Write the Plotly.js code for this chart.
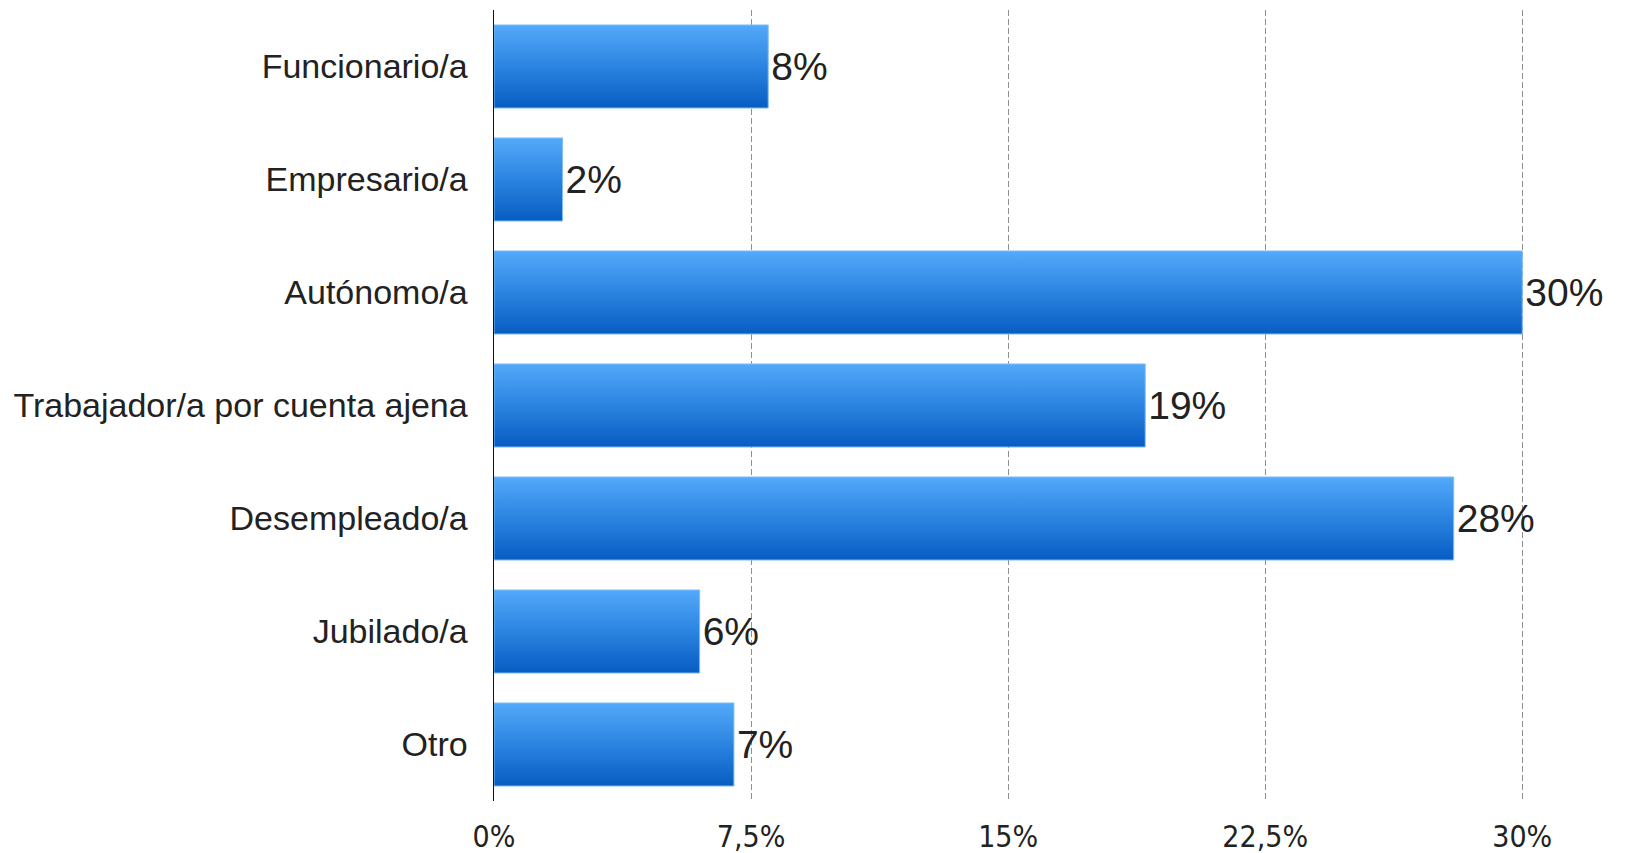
<!DOCTYPE html>
<html>
<head>
<meta charset="utf-8">
<script src="https://cdn.plot.ly/plotly-3.0.1.min.js"></script>
<style>
  html, body { margin: 0; padding: 0; background: #fff; }
  #chart { width: 1634px; height: 853px; }
</style>
</head>
<body>
<div id="chart"></div>
<script>
// Situación laboral (porcentaje)
const categories = [
    "Funcionario/a",
    "Empresario/a",
    "Autónomo/a",
    "Trabajador/a por cuenta ajena",
    "Desempleado/a",
    "Jubilado/a",
    "Otro"
];
const percentages = [8, 2, 30, 19, 28, 6, 7];
const tickValues = [0, 7.5, 15, 22.5, 30];
const tickLabels = ["0%", "7,5%", "15%", "22,5%", "30%"];

const trace = {
    type: "bar",
    orientation: "h",
    y: categories,
    x: percentages,
    marker: {
        color: "#2a82de",
        line: { color: "#7fbdf6", width: 1 }
    },
    text: percentages.map(v => v + "%"),
    textposition: "outside",
    constraintext: "none",
    cliponaxis: false,
    textfont: { family: "Liberation Sans, Arial, sans-serif", size: 39, color: "#222" },
    hoverinfo: "none"
};

const layout = {
    width: 1634,
    height: 853,
    margin: { t: 10, b: 52, l: 494, r: 109 },
    paper_bgcolor: "#fff",
    plot_bgcolor: "#fff",
    bargap: 0.265,
    showlegend: false,
    font: { family: "Liberation Sans, Arial, sans-serif", color: "#222" },
    xaxis: {
        range: [0, 30.08],
        tickmode: "array",
        tickvals: tickValues,
        ticktext: tickLabels,
        showgrid: true,
        gridcolor: "#8f8f8f",
        gridwidth: 1,
        griddash: "6px,3px",
        zeroline: false,
        ticks: "",
        ticklabelstandoff: 15,
        tickfont: { family: "Liberation Sans Narrow, DejaVu Sans Condensed, Arial, sans-serif", size: 30, color: "#222" }
    },
    yaxis: {
        autorange: "reversed",
        categoryorder: "array",
        categoryarray: categories,
        showline: true,
        linecolor: "#111",
        linewidth: 1.5,
        showgrid: false,
        ticks: "",
        ticklabelstandoff: 18,
        tickfont: { size: 34, color: "#222" }
    }
};

// Bar Gradient (light blue top -> deep blue bottom)
function applyGradient(gd) {
    const svg = gd.querySelector("svg.main-svg");
    if (!svg) return;
    const ns = "http://www.w3.org/2000/svg";
    let defs = svg.querySelector("defs");
    if (!defs) { defs = document.createElementNS(ns, "defs"); svg.prepend(defs); }
    const grad = document.createElementNS(ns, "linearGradient");
    grad.setAttribute("id", "barGrad");
    grad.setAttribute("x1", "0"); grad.setAttribute("y1", "0");
    grad.setAttribute("x2", "0"); grad.setAttribute("y2", "1");
    [["0", "#53a9fa"], ["0.5", "#2b84e0"], ["1", "#075cc2"]].forEach(([off, col]) => {
        const stop = document.createElementNS(ns, "stop");
        stop.setAttribute("offset", off);
        stop.setAttribute("stop-color", col);
        grad.appendChild(stop);
    });
    defs.appendChild(grad);
    gd.querySelectorAll(".bars .point path").forEach(p => {
        p.style.fill = "url(#barGrad)";
    });
}

Plotly.newPlot("chart", [trace], layout, { displayModeBar: false, staticPlot: true })
    .then(applyGradient);
</script>
</body>
</html>
